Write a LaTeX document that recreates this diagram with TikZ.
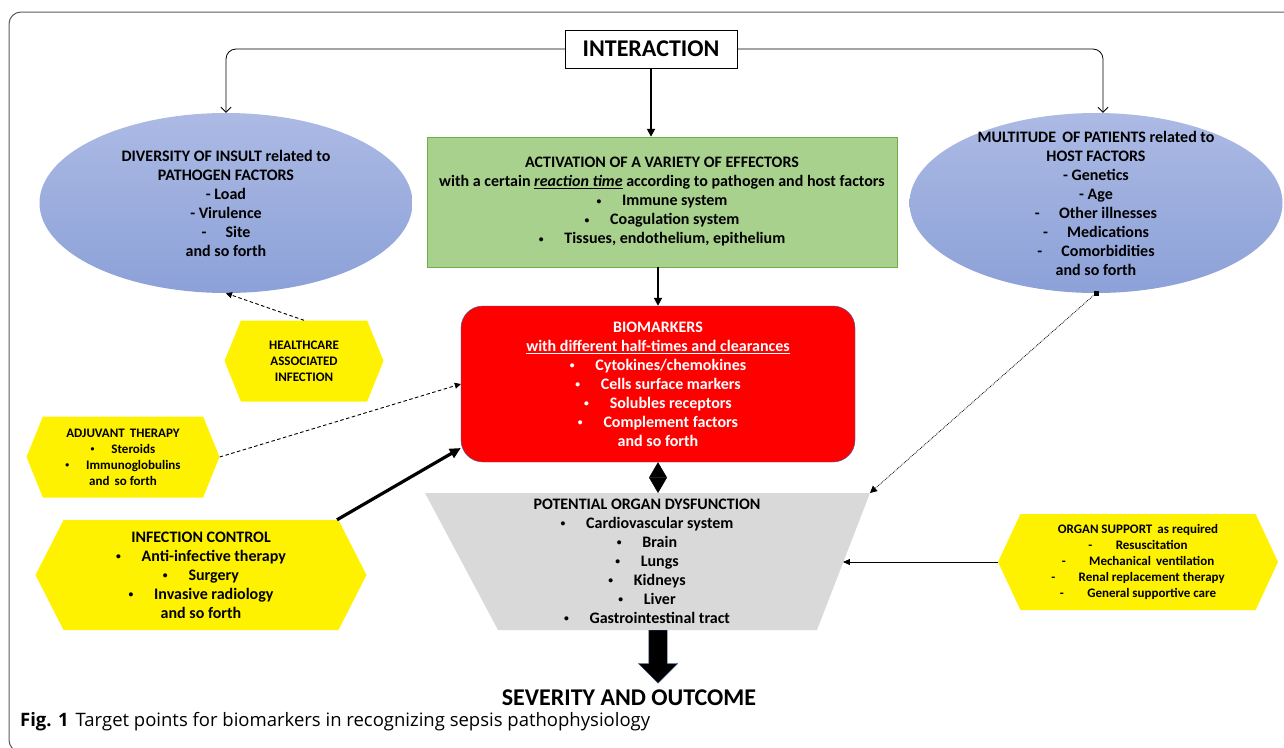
\documentclass[tikz,border=0pt]{standalone}
\usepackage{fontspec}
\setmainfont{Carlito}
\newfontfamily\capfont{Open Sans}
\usetikzlibrary{arrows,arrows.meta,shapes,shapes.arrows,positioning,calc}
\definecolor{factortop}{RGB}{172,186,228}
\definecolor{factorbottom}{RGB}{140,161,216}
\definecolor{effectfill}{RGB}{169,209,142}
\definecolor{effectline}{RGB}{112,173,71}
\definecolor{markerline}{RGB}{65,90,150}
\definecolor{organfill}{RGB}{217,217,217}
\definecolor{framegray}{RGB}{90,90,90}
\definecolor{arrowline}{RGB}{40,70,120}
\newcommand{\blt}{\raisebox{0.2ex}{\scalebox{0.6}{\textbullet}}\hspace{1.3em}}

\begin{document}
\begin{tikzpicture}[x=1pt,y=-1pt,
bigtext/.style={font=\fontsize{24}{28}\selectfont\bfseries},
txt/.style={align=center,font=\fontsize{16}{19}\selectfont\bfseries},
smalltxt/.style={align=center,font=\fontsize{13}{16}\selectfont\bfseries},
factor/.style={ellipse,minimum width=373pt,minimum height=180pt,top color=factortop,bottom color=factorbottom},
effector/.style={rectangle,draw=effectline,fill=effectfill,minimum width=470pt,minimum height=130pt,txt},
marker/.style={rectangle,rounded corners=22pt,draw=markerline,fill=red,text=white,minimum width=394pt,minimum height=156pt,txt},
hexa/.style={signal,signal to=west and east,fill=yellow,inner sep=0pt},
to/.style={-{Triangle[length=8pt,width=8pt]},line width=1.8pt},
fork/.style={-{Straight Barb[length=5pt,width=10pt]},line width=0.8pt,rounded corners=10pt},
hint/.style={-{Triangle[length=6pt,width=6pt]},dash pattern=on 3.5pt off 2.5pt,line width=0.9pt},
]
\useasboundingbox (0,0) rectangle (1284,747);
\draw[framegray,line width=1pt,rounded corners=12pt] (9,12) rectangle (1300,752);

\node (inter) [draw,thin,minimum width=172pt,minimum height=38pt,bigtext] at (651,49) {INTERACTION};
\node (pathogen) [factor] at (226,203) {};
\node [txt] at (pathogen) {DIVERSITY OF INSULT related to\\PATHOGEN FACTORS\\- Load\\- Virulence\\-\hspace{1.2em}Site\\and so forth};
\node (host) [factor] at (1096,203) {};
\node [txt] at (host) {MULTITUDE\, OF PATIENTS related to\\HOST FACTORS\\- Genetics\\- Age\\-\hspace{1.2em}Other illnesses\\-\hspace{1.2em}Medications\\-\hspace{1.2em}Comorbidities\\and so forth};
\node (effect) [effector] at (662,202) {ACTIVATION OF A VARIETY OF EFFECTORS\\with a certain \underline{\textit{reaction time}} according to pathogen and host factors\\\blt Immune system\\\blt Coagulation system\\\blt Tissues, endothelium, epithelium};
\node (bio) [marker] at (658,384) {BIOMARKERS\\\underline{with different half-times and clearances}\\\blt Cytokines/chemokines\\\blt Cells surface markers\\\blt Solubles receptors\\\blt Complement factors\\and so forth};

\coordinate (tl) at (425,493);
\coordinate (tr) at (870,493);
\coordinate (br) at (817,630);
\coordinate (bl) at (498,630);
\coordinate (orgright) at ($(tr)!0.51!(br)$);
\fill[organfill] (tl) -- (tr) -- (br) -- (bl) -- cycle;
\node (organ) [txt] at (647,561) {POTENTIAL ORGAN DYSFUNCTION\\\blt Cardiovascular system\\\blt Brain\\\blt Lungs\\\blt Kidneys\\\blt Liver\\\blt Gastrointestinal tract};

\node (health) [hexa,signal pointer angle=136,minimum width=159pt,minimum height=81pt,smalltxt] at (304,361) {HEALTHCARE\\ASSOCIATED\\INFECTION};
\node (adjuvant) [hexa,signal pointer angle=136,minimum width=193pt,minimum height=81pt,smalltxt] at (123,457) {ADJUVANT\, THERAPY\\\blt Steroids\\\blt Immunoglobulins\\and\, so forth};
\node (infect) [hexa,signal pointer angle=126,minimum width=331pt,minimum height=110pt,txt] at (201,575) {INFECTION CONTROL\\\blt Anti-infective therapy\\\blt Surgery\\\blt Invasive radiology\\and so forth};
\node (support) [hexa,signal pointer angle=130,minimum width=280pt,minimum height=96pt,smalltxt] at (1138,562) {ORGAN SUPPORT\, as required\\-\hspace{1.8em}Resuscitation\\-\hspace{1.8em}Mechanical\, ventilation\\-\hspace{1.8em}Renal replacement therapy\\-\hspace{1.8em}General supportive care};

\node (fall) [single arrow,rotate=-90,anchor=west,fill=black,draw=arrowline,thin,minimum height=53pt,inner xsep=0pt,inner ysep=9pt,single arrow head extend=10.5pt] at (658,630) {};
\node (outcome) [bigtext] at (629,698) {SEVERITY AND OUTCOME};
\node [anchor=west,font=\fontsize{18.5}{22}\selectfont\capfont,inner sep=0pt] at (20,722) {\textbf{Fig. 1}\hspace{7pt}Target points for biomarkers in recognizing sepsis pathophysiology};

\draw[fork] (inter.west) -| (pathogen.north);
\draw[fork] (inter.east) -| ([xshift=7pt]host.north);
\draw[to] (inter.south) -- (inter.south |- effect.north);
\draw[to] (bio.north |- effect.south) -- (bio.north);
\draw[{Triangle[length=15.5pt,width=18pt]}-{Triangle[length=15.5pt,width=18pt]},line width=0.5pt] (bio.south) -- (bio.south |- tl);
\draw[hint] (health.north) -- (pathogen.south);
\draw[hint] (adjuvant.east) -- (bio.west);
\draw[-{Triangle[length=11pt,width=10pt]},line width=3.2pt] ([xshift=136pt]infect.north) -- ([yshift=-64pt]bio.west);
\fill ([xshift=-2.5pt,yshift=-2.5pt]host.south) rectangle ([xshift=2.5pt,yshift=2.5pt]host.south);
\draw[-{Triangle[length=7pt,width=7pt]},densely dotted,line width=0.8pt] (host.south) -- (tr);
\draw[-{Triangle[length=7pt,width=6pt]},line width=0.8pt] (support.west) -- (support.west -| orgright);
\end{tikzpicture}
\end{document}
